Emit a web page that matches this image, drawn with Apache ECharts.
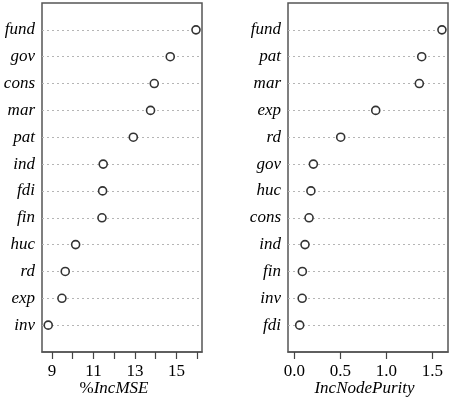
<!DOCTYPE html>
<html>
<head>
<meta charset="utf-8">
<script src="https://cdn.jsdelivr.net/npm/echarts@6/dist/echarts.min.js"></script>
<style>
html,body{margin:0;padding:0;background:#fff;}
#c{width:450px;height:398px;}
</style>
</head>
<body>
<div id="c"></div>
<script>
// Left panel: %IncMSE (categories listed top to bottom)
var mseCats = ['fund','gov','cons','mar','pat','ind','fdi','fin','huc','rd','exp','inv'];
var mseVals = [15.94,14.70,13.93,13.75,12.92,11.47,11.44,11.41,10.14,9.64,9.48,8.82];
var mseTickLabels = [9,11,13,15];
var mseTicks = [9,10,11,12,13,14,15,16];

// Right panel: IncNodePurity (categories listed top to bottom)
var purCats = ['fund','pat','mar','exp','rd','gov','huc','cons','ind','fin','inv','fdi'];
var purVals = [1.605,1.385,1.359,0.885,0.504,0.207,0.180,0.160,0.116,0.087,0.085,0.058];
var purTickLabels = [0,0.5,1.0,1.5];

var FONT = 'Liberation Serif';
var n = mseCats.length;

function rows(vals){ return vals.map(function(v,i){ return [v, n - i]; }); }
function rowLines(){ var a=[]; for(var i=1;i<=n;i++) a.push({yAxis:i}); return a; }

function yAxisFor(cats, idx){
  return {
    type:'value', gridIndex:idx, min:0, max:n+1, interval:1,
    axisLine:{show:false}, axisTick:{show:false}, splitLine:{show:false},
    axisLabel:{
      fontFamily:FONT, fontStyle:'italic', fontSize:17, color:'#000', margin:7,
      formatter:function(v){ return (v>=1 && v<=n) ? cats[n - v] : ''; }
    }
  };
}

function xAxisFor(idx, min, max, labels, ticks, name, fmt, pad){
  return {
    type:'value', gridIndex:idx, min:min, max:max,
    axisLine:{show:true, lineStyle:{color:'#555', width:1.5}},
    axisTick:{show:true, length:7, customValues:ticks, lineStyle:{color:'#444', width:1.2}},
    splitLine:{show:false},
    axisLabel:{customValues:labels, fontFamily:FONT, fontSize:17, color:'#000', margin:11, formatter:fmt},
    name:name, nameLocation:'middle', nameGap:28, nameMoveOverlap:false,
    nameTextStyle:{fontFamily:FONT, fontSize:17, color:'#000', padding:[0,pad,0,0],
      rich:{a:{fontFamily:FONT, fontSize:17, color:'#000', fontStyle:'normal'},
            b:{fontFamily:FONT, fontSize:17, color:'#000', fontStyle:'italic'}}}
  };
}

function seriesFor(idx, vals){
  return {
    type:'scatter', xAxisIndex:idx, yAxisIndex:idx, data:rows(vals),
    symbol:'circle', symbolSize:8,
    itemStyle:{color:'#fff', borderColor:'#333', borderWidth:1.6, opacity:1},
    z:5,
    markLine:{
      silent:true, symbol:['none','none'], label:{show:false},
      lineStyle:{color:'#b5b5b5', type:[2,3], width:1},
      data:rowLines(), animation:false
    }
  };
}

var chart = echarts.init(document.getElementById('c'));
chart.setOption({
  animation:false,
  backgroundColor:'#fff',
  grid:[
    {left:42, top:3, width:160, height:349, outerBoundsMode:'none', containLabel:false, show:true, borderColor:'#555', borderWidth:1.5, backgroundColor:'transparent'},
    {left:288, top:3, width:160, height:349, outerBoundsMode:'none', containLabel:false, show:true, borderColor:'#555', borderWidth:1.5, backgroundColor:'transparent'}
  ],
  xAxis:[
    xAxisFor(0, 8.52, 16.23, mseTickLabels, mseTicks, '{a|%}{b|IncMSE}', function(v){return String(v);}, 16),
    xAxisFor(1, -0.069, 1.671, purTickLabels, purTickLabels, '{b|IncNodePurity}', function(v){return v.toFixed(1);}, 7)
  ],
  yAxis:[ yAxisFor(mseCats,0), yAxisFor(purCats,1) ],
  series:[ seriesFor(0, mseVals), seriesFor(1, purVals) ]
});
</script>
</body>
</html>
